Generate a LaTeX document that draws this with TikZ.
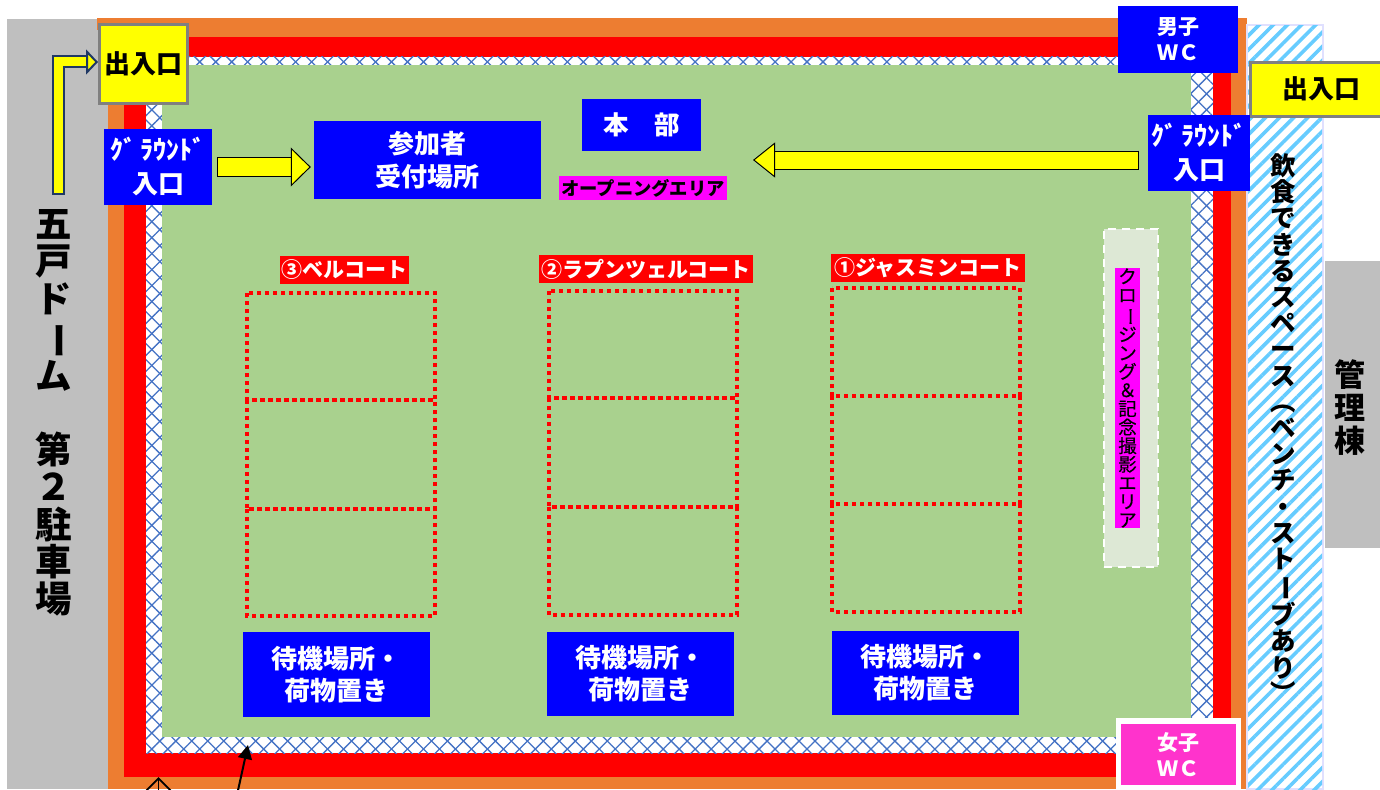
\documentclass[tikz,border=0pt]{standalone}
\usepackage{fontspec}
\usepackage{graphicx}
\setmainfont{Noto Sans CJK JP}
\newcommand{\heavy}{\bfseries}
\newfontfamily\thinbold{Noto Sans CJK JP}[FakeBold=0.25]
\usetikzlibrary{arrows.meta,patterns.meta,calc}
\definecolor{orangeband}{HTML}{ED7D31}
\definecolor{lawn}{HTML}{A9D18E}
\definecolor{lattice}{HTML}{4472C4}
\definecolor{sky}{HTML}{66CCFF}
\definecolor{grayzone}{HTML}{BFBFBF}
\definecolor{bluebox}{HTML}{0000FF}
\definecolor{pinkbox}{HTML}{FF33CC}
\definecolor{magentabox}{HTML}{FF00FF}
\definecolor{navy}{HTML}{1F3864}
\definecolor{closingfill}{HTML}{DDE8D5}
\definecolor{brightyellow}{RGB}{255,255,0}
\newcommand{\fsz}[2]{\fontsize{#1}{#2}\selectfont}
\newcommand{\vrot}[1]{\rotatebox[origin=c]{-90}{#1}}
\newcommand{\groundword}{ｸﾞ\hspace{4pt}ﾗｳﾝﾄﾞ}
\tikzset{
  x=1pt,y=-1pt,
  bluenode/.style={fill=bluebox,text=white,inner sep=0pt,align=center},
  entrance/.style={fill=brightyellow,draw=gray,line width=3pt,inner sep=0pt,align=center,text=black,font=\fsz{26}{30}\heavy},
  courtlabel/.style={fill=red,text=white,inner sep=0pt,font=\fsz{21}{24}\heavy},
  courtline/.style={draw=red,line width=3.6pt,dash pattern=on 3.8pt off 4.2pt},
  waitbox/.style={bluenode,minimum width=187pt,font=\fsz{26}{32}\heavy},
  groundbox/.style={bluenode,minimum height=76pt,font=\fsz{26}{34}\heavy},
  blockarrow/.style={draw=black,double=brightyellow,line width=1pt,line join=miter},
  vtext/.style={inner sep=0pt,align=center,text=black},
  hatchline/.style={pattern={Lines[angle=#1,distance=11.3pt,line width=1.3pt]},pattern color=lattice},
}
\begin{document}
\begin{tikzpicture}
\useasboundingbox (0,0) rectangle (1380,789);
\fill[white] (0,0) rectangle (1380,789);
% zones
\fill[grayzone] (7,19) rectangle (108,789);
\fill[orangeband] (97,18) rectangle (1247,789);
\fill[grayzone] (97,30) rectangle (108,789);
\fill[red] (124,37) rectangle (1231,777);
\fill[white] (146,57) rectangle (1213,753);
\fill[hatchline=45] (146,57) rectangle (1213,753);
\fill[hatchline=-45] (146,57) rectangle (1213,753);
\fill[lawn] (162,65) rectangle (1191,737);
% right strip
\fill[white,draw=blue!12,line width=2pt] (1247,25) rectangle (1323,789);
\fill[pattern={Lines[angle=45,distance=10pt,line width=3.6pt]},pattern color=sky] (1248,26) rectangle (1322,789);
\node[vtext,font=\fsz{25.5}{26.2}\heavy] (eat) at (1283,430) {飲\\食\\で\\き\\る\\ス\\ペ\\ー\\ス\\\vrot{（}\\ベ\\ン\\チ\\・\\ス\\ト\\\vrot{ー}\\ブ\\あ\\り\\\vrot{）}};
% admin
\node[fill=grayzone,draw=gray!50,line width=1pt,inner sep=0pt,minimum width=56pt,minimum height=286pt,anchor=north west] (admin) at (1325,261) {};
\node[vtext,font=\fsz{31}{33}\heavy] (admintext) at (1350,408) {管\\理\\棟};
% parking label
\node[vtext,font=\fsz{36.5}{37.3}\heavy] (park) at (54,413) {五\\戸\\ド\\\vrot{ー}\\ム\\　\\第\\２\\駐\\車\\場};
% closing area
\node[fill=closingfill,draw=white,line width=2.2pt,dash pattern=on 8pt off 6pt,minimum width=54pt,minimum height=338pt,inner sep=0pt] (closing) at (1131,398) {};
\node[fill=magentabox,minimum width=25pt,minimum height=260pt,inner sep=0pt,align=center,font=\fsz{18.5}{18.55}\thinbold] (closinglabel) at (1127.5,398) {ク\\ロ\\\vrot{ー}\\ジ\\ン\\グ\\＆\\記\\念\\撮\\影\\エ\\リ\\ア};
% top boxes
\node[entrance,minimum width=88pt,minimum height=79pt] (in1) at (143.5,64) {出入口};
\node[fill=brightyellow,draw=gray,line width=3pt,minimum width=140pt,minimum height=54pt,inner sep=0pt] (in2) at (1320,90) {};
\node[font=\fsz{26}{30}\heavy] (in2t) at (1321,89) {出入口};
\node[bluenode,minimum width=120pt,minimum height=67pt,font=\fsz{21}{26}\heavy] (mwc) at (1178,39.5) {男子\\ＷＣ};
\node[fill=white,minimum width=125pt,minimum height=71pt,inner sep=0pt] (fwcbg) at (1178.5,753.5) {};
\node[fill=pinkbox,text=white,minimum width=115pt,minimum height=61pt,inner sep=0pt,align=center,font=\fsz{21}{26}\heavy] (fwc) at (1178.5,754.5) {女子\\ＷＣ};
\node[groundbox,minimum width=108pt] (g1) at (158,167) {\groundword\\入口};
\node[groundbox,minimum width=102pt] (g2) at (1199,153) {\groundword\\入口};
\node[bluenode,minimum width=227pt,minimum height=78pt,font=\fsz{26}{33}\heavy] (reception) at (427.5,160) {参加者\\受付場所};
\node[bluenode,minimum width=119pt,minimum height=52pt,font=\fsz{25.5}{30}\heavy] (hq) at (641.5,125) {本　部};
\node[fill=magentabox,text=black,minimum width=168pt,minimum height=24pt,inner sep=0pt,font=\fsz{18.3}{22}\heavy] (opening) at (643,188) {オープニングエリア};
\coordinate (opentip) at (753,160);
% courts
\node[courtlabel,minimum width=129pt,minimum height=28pt] (c3) at (344.5,270) {③ベルコート};
\node[courtlabel,minimum width=214pt,minimum height=28pt] (c2) at (646,269) {②ラプンツェルコート};
\node[courtlabel,minimum width=194pt,minimum height=28pt] (c1) at (928,268) {①ジャスミンコート};
\foreach \n/\xx/\aa/\bb/\cc/\dd in {l/247/293/400/509/616, m/549/291/398/507/615, r/832/288/396/504/612}{
  \draw[courtline] (\xx,\aa) rectangle ++(188,\bb-\aa);
  \draw[courtline] (\xx,\bb) rectangle ++(188,\cc-\bb);
  \draw[courtline] (\xx,\cc) rectangle ++(188,\dd-\cc);
}
\node[waitbox,minimum height=85pt] (w3) at (336.5,674.5) {待機場所・\\荷物置き};
\node[waitbox,minimum height=84pt] (w2) at (640.5,674) {待機場所・\\荷物置き};
\node[waitbox,minimum height=84pt] (w1) at (925.5,673) {待機場所・\\荷物置き};
% arrows
\coordinate (bendstart) at (58,195);
\draw[blockarrow,draw=navy,line width=2pt,double distance=9pt,
  {Bar[width=13pt,line width=2pt,sep=0pt]}-{Triangle[length=12pt,width=25pt,line width=2pt,fill=brightyellow,sep=0pt]}]
  (bendstart) |- ([yshift=2pt]in1.west);
\draw[blockarrow,double distance=18pt,shorten <=5pt,shorten >=3pt,
  {Bar[width=20pt,line width=1pt,sep=0pt]}-{Triangle[length=20pt,width=39pt,line width=1pt,fill=brightyellow,sep=0pt]}]
  (g1.east) -- (g1.east -| reception.west);
\draw[blockarrow,double distance=17pt,shorten <=9pt,
  {Bar[width=19pt,line width=1pt,sep=0pt]}-{Triangle[length=22pt,width=35pt,line width=1pt,fill=brightyellow,sep=0pt]}]
  (g2.west |- opentip) -- (opentip);
\coordinate (leftfoot) at (158.5,795);
\coordinate (lefttip) at (158.5,777);
\draw[line width=1.8pt,-{Straight Barb[length=12pt,width=24pt,line width=1.8pt]}] (leftfoot) -- (lefttip);
\coordinate (midfoot) at (237,795);
\coordinate (midtip) at (248,745);
\draw[line width=2pt,-{Triangle[length=14pt,width=14pt]}] (midfoot) -- (midtip);
\end{tikzpicture}
\end{document}
